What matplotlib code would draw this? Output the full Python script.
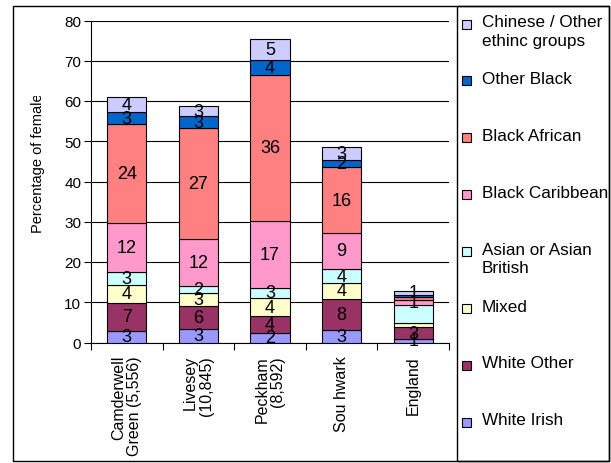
import matplotlib
matplotlib.use("Agg")
import matplotlib.pyplot as plt
from matplotlib.patches import Rectangle
import numpy as np

plt.rcParams['font.family'] = ['Liberation Sans', 'DejaVu Sans']

categories = ["Camderwell\nGreen (5,556)", "Livesey\n(10,845)", "Peckham\n(8,592)", "Sou hwark", "England"]

series_names = ["White Irish", "White Other", "Mixed", "Asian or Asian\nBritish",
                "Black Caribbean", "Black African", "Other Black", "Chinese / Other\nethinc groups"]
series_colors = ["#9999FF", "#993366", "#FFFFCC", "#CCFFFF", "#FF99CC", "#FF8080", "#0066CC", "#CCCCFF"]

white_irish     = [2.9, 3.3, 2.3, 3.1, 0.9]
white_other     = [7.0, 5.8, 4.3, 7.8, 2.9]
mixed           = [4.4, 3.1, 4.4, 3.8, 1.1]
asian           = [3.1, 1.8, 2.6, 3.6, 4.4]
black_caribbean = [12.4, 11.8, 16.6, 8.9, 1.2]
black_african   = [24.4, 27.4, 36.3, 16.4, 0.9]
other_black     = [3.0, 3.0, 3.6, 1.7, 0.5]
chinese_other   = [3.7, 2.6, 5.4, 3.3, 1.0]

# labels shown on the England bar (others hidden because they were not displayed)
england_labelled = [True, True, False, False, True, False, False, True]

series = [white_irish, white_other, mixed, asian, black_caribbean,
          black_african, other_black, chinese_other]

W, H = 611, 464
fig = plt.figure(figsize=(W / 100, H / 100), dpi=100)
ax = fig.add_axes([91 / W, 1 - 343.5 / H, (449 - 91) / W, (343.5 - 21.5) / H])

x = np.arange(len(categories))
bottom = np.zeros(len(categories))
for si, (vals, col) in enumerate(zip(series, series_colors)):
    vals = np.array(vals)
    ax.bar(x, vals, 0.55, bottom=bottom, color=col, edgecolor='black', linewidth=0.8, zorder=3)
    for ci in range(len(categories)):
        if ci == len(categories) - 1 and not england_labelled[si]:
            continue
        ax.text(x[ci], bottom[ci] + vals[ci] / 2, f"{int(round(vals[ci]))}",
                ha='center', va='center', fontsize=13, color='black', zorder=4)
    bottom += vals

ax.set_xlim(-0.5, len(categories) - 0.5)
ax.set_ylim(0, 80)
ax.set_yticks(np.arange(0, 81, 10))
ax.yaxis.grid(True, color='black', linewidth=0.8, zorder=0)
ax.set_axisbelow(True)
for s in ['top', 'right']:
    ax.spines[s].set_visible(False)
ax.spines['left'].set_linewidth(0.8)
ax.spines['bottom'].set_linewidth(0.8)
ax.tick_params(axis='y', labelsize=11, length=5, width=0.8, pad=2)

ax.set_xticks(x)
ax.set_xticklabels(categories, rotation=90, fontsize=11.5, va='top', ha='center',
                   multialignment='right', linespacing=1.05)
ax.tick_params(axis='x', which='major', length=0, pad=9)
ax.set_xticks(np.arange(-0.5, len(categories), 1), minor=True)
ax.tick_params(axis='x', which='minor', length=5, width=0.8)

# y-axis label (clipped at top as in the reference)
yl = fig.text(38.5 / W, 1 - 233 / H, "Percentage of females", rotation=90,
              ha='center', va='bottom', fontsize=10.5)
yl.set_clip_box(matplotlib.transforms.Bbox.from_extents(0, H - 460, 100, H - 97))
yl.set_clip_on(True)

# outer border and legend box
fig.patches.append(Rectangle((13 / W, 1 - 462 / H), (609 - 13) / W, (462 - 7) / H,
                             transform=fig.transFigure, fill=False, edgecolor='black', linewidth=1))
fig.patches.append(Rectangle((457 / W, 1 - 462 / H), (609 - 457) / W, (462 - 7) / H,
                             transform=fig.transFigure, fill=False, edgecolor='black', linewidth=1))

# manual legend, top entry = last series
for k, si in enumerate(range(len(series_names) - 1, -1, -1)):
    yc = 25 + k * 56.9
    fig.patches.append(Rectangle((462 / W, 1 - (yc + 4.5) / H), 9 / W, 9 / H,
                                 transform=fig.transFigure, facecolor=series_colors[si],
                                 edgecolor='black', linewidth=0.8))
    fig.text(482 / W, 1 - (yc - 10) / H, series_names[si], ha='left', va='top',
             fontsize=12.3, linespacing=1.3)

fig.savefig("out.png", dpi=100)
